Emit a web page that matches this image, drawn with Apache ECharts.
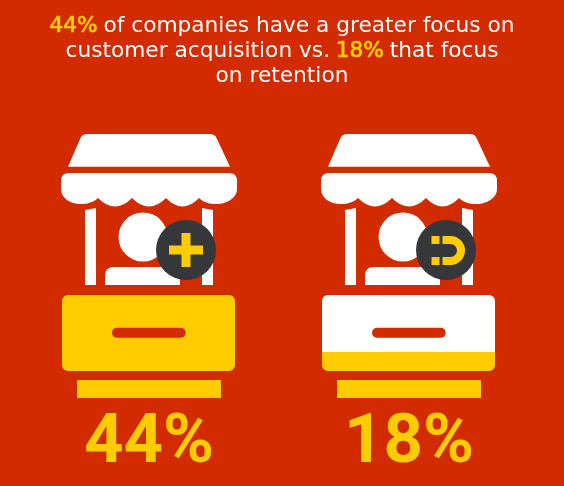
<!DOCTYPE html>
<html>
<head>
<meta charset="utf-8">
<style>
    html, body { margin: 0; padding: 0; background: #d22b00; }
    #main { width: 564px; height: 486px; }
</style>
<script src="https://cdn.jsdelivr.net/npm/echarts@6/dist/echarts.min.js"></script>
</head>
<body>
<div id="main"></div>
<script>
var categories = ['Customer acquisition', 'Retention'];
var percents = [44, 18];
// how much of each counter is filled with yellow
var counterFill = [100, 25];
var counterEmpty = [0, 75];
var titleLines = [
    '{y|44%} {w|of companies have a greater focus on}',
    '{w|customer acquisition vs.} {y|18%} {w|that focus}',
    '{w|on retention}'
];

var RED = '#d22b00', YELLOW = '#ffcc00', WHITE = '#ffffff', DARK = '#35373a';

function pathEl(d, x, y, w, h, fill) {
    return { type: 'path', shape: { pathData: d, x: x, y: y, width: w, height: h }, style: { fill: fill } };
}
function rectEl(x, y, w, h, r, fill) {
    return { type: 'rect', shape: { x: x, y: y, width: w, height: h, r: r }, style: { fill: fill } };
}

// stall drawing, local origin is the top centre of the counter
function renderStall(params, api) {
    var idx = api.value(0);
    var pos = api.coord([idx, 100]);
    var kids = [
        pathEl('M-80.5 -128.3 L-68 -157 Q-66.5 -161 -61 -161 L61 -161 Q66.5 -161 68 -157 L81.5 -128.3 Z', -80.5, -161, 162, 32.7, WHITE),
        pathEl('M-87.5 -114 Q-87.5 -122 -79.5 -122 L80.5 -122 Q88.5 -122 88.5 -114 L88.5 -106 C88.5 -97 78 -91 68 -91 C60 -91 55 -93 50.5 -97 Q34 -80 17.5 -97 Q0.5 -80 -16.5 -97 Q-33.5 -80 -50.5 -97 C-55 -93 -60 -91 -68 -91 C-78 -91 -87.5 -97 -87.5 -106 Z', -87.5, -122, 176, 33.5, WHITE),
        { type: 'polygon', shape: { points: [[-63.5, -85], [-52.5, -87], [-52.5, -10], [-63.5, -10]] }, style: { fill: WHITE } },
        { type: 'polygon', shape: { points: [[53.5, -87], [64.5, -85], [64.5, -10], [53.5, -10]] }, style: { fill: WHITE } },
        { type: 'circle', shape: { cx: -5.5, cy: -58, r: 24.5 }, style: { fill: WHITE } },
        rectEl(-43.5, -28, 75, 18, [8, 8, 0, 0], WHITE),
        { type: 'circle', shape: { cx: 37.5, cy: -45, r: 30 }, style: { fill: DARK } },
        // slot in the counter
        rectEl(-36.5, 32.7, 73.7, 10, 5, RED),
        // shelf under the counter
        rectEl(-71.5, 85, 144, 18, 0, YELLOW),
        // big number
        { type: 'text', x: 0.5, y: 184, style: { text: api.value(1) + '%', align: 'center', verticalAlign: 'bottom', fill: YELLOW, font: 'bold 69px Roboto' } }
    ];
    if (idx === 0) {
        kids.push(rectEl(20.5, -49.5, 34, 9, 0, YELLOW));
        kids.push(rectEl(33, -62, 9, 34, 0, YELLOW));
    } else {
        kids.push(rectEl(23, -59, 8, 8, 0, YELLOW));
        kids.push(rectEl(23, -38, 8, 8, 0, YELLOW));
        kids.push(pathEl('M34 -59 L42 -59 A14.5 14.5 0 0 1 42 -30 L34 -30 L34 -38 L42 -38 A6.5 6.5 0 0 0 42 -51 L34 -51 Z', 34, -59, 22.5, 29, YELLOW));
    }
    return { type: 'group', x: pos[0], y: pos[1], children: kids };
}

var myChart = echarts.init(document.getElementById('main'));
myChart.setOption({
    backgroundColor: RED,
    animation: false,
    title: {
        text: titleLines.join('\n'),
        left: 277,
        top: 9,
        textAlign: 'center',
        textStyle: {
            fontFamily: '"DejaVu Sans"',
            fontWeight: 'normal',
            align: 'center',
            rich: {
                // thin outline so the yellow figures read heavier, like the reference
                y: { color: YELLOW, fontFamily: '"DejaVu Sans"', fontSize: 21.7, fontWeight: 'normal', lineHeight: 25, textBorderColor: YELLOW, textBorderWidth: 0.7 },
                w: { color: WHITE, fontFamily: '"DejaVu Sans"', fontSize: 21.7, fontWeight: 'normal', lineHeight: 25 }
            }
        }
    },
    grid: { left: 18.5, right: 25.5, top: 295, height: 76 },
    xAxis: { type: 'category', data: categories, show: false },
    yAxis: { type: 'value', min: 0, max: 100, show: false },
    series: [{
        name: 'filled',
        type: 'bar',
        stack: 'counter',
        barWidth: 173,
        itemStyle: { color: YELLOW },
        data: counterFill.map(function (v) {
            return { value: v, itemStyle: { borderRadius: v >= 100 ? 6 : [0, 0, 6, 6] } };
        })
    }, {
        name: 'empty',
        type: 'bar',
        stack: 'counter',
        barWidth: 173,
        itemStyle: { color: WHITE, borderRadius: [6, 6, 0, 0] },
        data: counterEmpty
    }, {
        name: 'stall',
        type: 'custom',
        clip: false,
        z: 5,
        renderItem: renderStall,
        data: percents.map(function (p, i) { return [i, p]; })
    }]
});
</script>
</body>
</html>
